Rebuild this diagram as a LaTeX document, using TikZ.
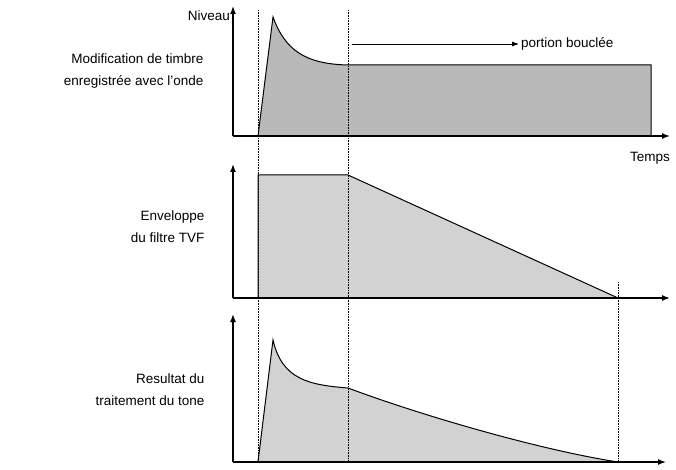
\documentclass[tikz,border=0pt]{standalone}
\usepackage{fontspec}
\setmainfont{Liberation Sans}
\begin{document}
\begin{tikzpicture}[x=1pt,y=-1pt,
  ax/.style={line width=1.4pt,-{Latex[length=8pt,width=6pt]}},
  dot/.style={densely dotted,line width=0.6pt},
  lbl/.style={font=\fontsize{13.5}{22}\selectfont,align=right,anchor=east},
  sh/.style={draw,line width=1pt,fill=#1}]
\usetikzlibrary{arrows.meta}
\useasboundingbox (0,0) rectangle (676,470);
\clip (0,0) rectangle (676,470);
% panel 1
\fill[gray!55] (258,136) -- (273,17) .. controls (285,50) and (305,64) .. (348,65) -- (651,65) -- (651,136) -- cycle;
\draw[line width=1pt] (258,136) -- (273,17) .. controls (285,50) and (305,64) .. (348,65) -- (651,65) -- (651,136);
% panel 2
\draw[sh=gray!35] (258,298) -- (258,175) -- (348,175) -- (618,298);
% panel 3
\fill[gray!35] (258,462) -- (273,340) .. controls (282,380) and (310,385) .. (348,388) .. controls (420,415) and (540,450) .. (618,462) -- cycle;
\draw[line width=1pt] (258,462) -- (273,340) .. controls (282,380) and (310,385) .. (348,388) .. controls (420,415) and (540,450) .. (618,462);
% dotted
\draw[dot] (258,10) -- (258,462);
\draw[dot] (348,10) -- (348,462);
\draw[dot] (618,282) -- (618,462);
% axes
\coordinate (o1) at (233,136); \coordinate (y1) at (233,6); \coordinate (x1) at (670,136);
\coordinate (o2) at (233,298); \coordinate (y2) at (233,164); \coordinate (x2) at (670,298);
\coordinate (o3) at (233,462); \coordinate (y3) at (233,314); \coordinate (x3) at (666,462);
\draw[ax] (o1) -- (y1); \draw[ax] (o1) -- (x1);
\draw[ax] (o2) -- (y2); \draw[ax] (o2) -- (x2);
\draw[ax] (o3) -- (y3); \draw[ax] (o3) -- (x3);
% loop arrow
\coordinate (la) at (352,44);
\node[font=\fontsize{13.5}{16}\selectfont,anchor=west,inner sep=2pt] (pb) at (519,44) {portion bouclée};
\draw[line width=0.8pt,-{Latex[length=7pt,width=5pt]}] (la) -- (pb.west);
% labels
\node[lbl,inner sep=1pt] (niv) at (231,16) {Niveau};
\node[font=\fontsize{13.5}{16}\selectfont,anchor=west,inner sep=0pt] (tps) at (630,158) {Temps};
\node[lbl] (l1) at (207,71) {Modification de timbre\\enregistrée avec l'onde};
\node[lbl] (l2) at (208,227) {Enveloppe\\du filtre TVF};
\node[lbl] (l3) at (208,390) {Resultat du\\traitement du tone};
\end{tikzpicture}
\end{document}
